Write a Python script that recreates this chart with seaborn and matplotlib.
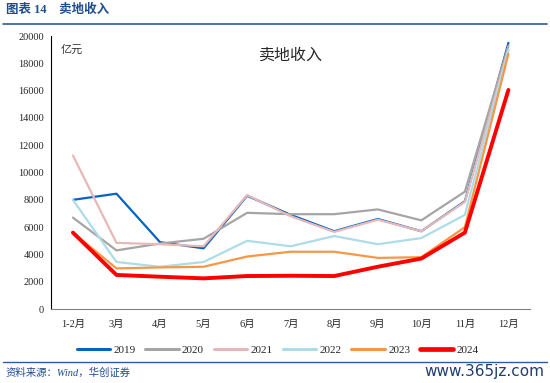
import numpy as np
import pandas as pd
import matplotlib
matplotlib.use('Agg')
import matplotlib.pyplot as plt
import seaborn as sns

# 数据（亿元）
months = ['1-2月', '3月', '4月', '5月', '6月', '7月', '8月', '9月', '10月', '11月', '12月']
y2019 = [8000, 8450, 4900, 4450, 8300, 6900, 5700, 6600, 5700, 7900, 19500]
y2020 = [6700, 4300, 4800, 5150, 7050, 6950, 6950, 7300, 6500, 8600, 19300]
y2021 = [11250, 4850, 4750, 4600, 8350, 6800, 5650, 6550, 5700, 7850, 19000]
y2022 = [8000, 3450, 3100, 3450, 5000, 4600, 5350, 4750, 5200, 6900, 19000]
y2023 = [5600, 2980, 3050, 3100, 3850, 4200, 4200, 3750, 3800, 6000, 18700]
y2024 = [5600, 2500, 2370, 2250, 2420, 2440, 2420, 3100, 3700, 5600, 16050]
years = ['2019', '2020', '2021', '2022', '2023', '2024']
colors = ['#0563C1', '#A5A5A5', '#E6B9B8', '#ADDCE8', '#F79646', '#FF0000']
widths = [1.6, 1.6, 1.6, 1.6, 1.6, 2.8]

series = [y2019, y2020, y2021, y2022, y2023, y2024]
df = pd.concat([
    pd.DataFrame({'pos': np.arange(len(months)), 'val': s, 'year': yr})
    for yr, s in zip(years, series)
], ignore_index=True)

sns.set_style('white')
serif = ['Liberation Serif', 'Noto Sans CJK SC']
plt.rcParams['font.family'] = serif

fig = plt.figure(figsize=(5.5, 3.83), dpi=100)
ax = fig.add_axes([0.093, 0.193, 0.871, 0.713])

sns.lineplot(data=df, x='pos', y='val', hue='year', size='year',
             palette=dict(zip(years, colors)), sizes=dict(zip(years, widths)),
             hue_order=years, size_order=years, legend=False, ax=ax, sort=False)

ax.set_xlim(-0.5, len(months) - 0.5)
ax.set_ylim(0, 20000)
ax.set_yticks(np.arange(0, 20001, 2000))
ax.set_yticklabels([str(v) for v in range(0, 20001, 2000)], fontsize=7.5)
ax.set_xticks(np.arange(-0.5, len(months), 1.0))
ax.set_xticklabels([])
ax.set_xticks(np.arange(len(months)), minor=True)
ax.set_xticklabels(months, minor=True, fontsize=7.5, family=serif)
ax.tick_params(axis='x', which='minor', length=0, pad=8)
ax.tick_params(axis='x', which='major', length=3, color='#808080', direction='out')
ax.tick_params(axis='y', length=3, color='black', direction='out', pad=2)
ax.set_xlabel('')
ax.set_ylabel('')
for s in ['top', 'right']:
    ax.spines[s].set_visible(False)
ax.spines['left'].set_color('black')
ax.spines['left'].set_linewidth(0.8)
ax.spines['bottom'].set_color('#808080')
ax.spines['bottom'].set_linewidth(0.8)

ax.text(0.5, 0.96, '卖地收入', transform=ax.transAxes, ha='center', va='top',
        fontsize=11.5, family=['Noto Sans CJK SC'])
ax.text(0.02, 0.97, '亿元', transform=ax.transAxes, ha='left', va='top',
        fontsize=8, family=['Noto Sans CJK SC'], color='#333333')

handles = [plt.Line2D([], [], color=c, lw=w + 0.6) for c, w in zip(colors, widths)]
fig.legend(handles, years, loc='center', bbox_to_anchor=(0.505, 0.087), ncol=6,
           frameon=False, fontsize=8, handlelength=3.0, columnspacing=0.9,
           handletextpad=0.3)

# 页眉页脚
fig.text(0.01, 0.975, '图表 14　卖地收入', ha='left', va='center', fontsize=9,
         color='#1F4E8C', fontweight='bold', family=serif)
fig.add_artist(plt.Line2D([0.005, 0.995], [0.937, 0.937], color='#2E5C9A', lw=1.2,
                          transform=fig.transFigure))
fig.add_artist(plt.Line2D([0.005, 0.995], [0.055, 0.055], color='#2E5C9A', lw=1.0,
                          transform=fig.transFigure))
fig.text(0.01, 0.027, '资料来源：Wind，华创证券', ha='left', va='center', fontsize=7.5,
         style='italic', color='#1F4E8C', family=serif)
fig.text(0.99, 0.03, 'www.365jz.com', ha='right', va='center', fontsize=11,
         color='#1F3F6E', family=['DejaVu Sans'])

fig.savefig('out.png', dpi=100)
